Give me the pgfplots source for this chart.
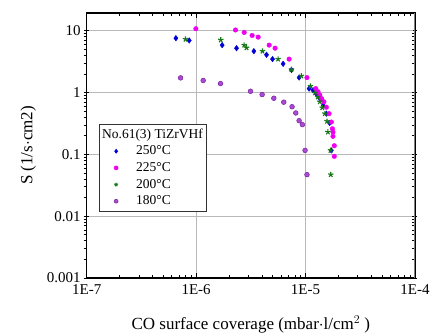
\documentclass[border=0pt]{standalone}
\usepackage{fontspec}
\setmainfont{Liberation Serif}
\usepackage{pgfplots}
\pgfplotsset{compat=1.18}
\definecolor{cA}{RGB}{0,0,215}
\definecolor{cB}{RGB}{240,0,240}
\definecolor{cC}{RGB}{20,120,20}
\definecolor{cD}{RGB}{170,75,210}
\definecolor{cDd}{RGB}{120,35,160}
\newcommand{\lf}{\fontsize{13.5bp}{15bp}\selectfont}
\pgfplotsset{mylegimg/.style={legend image code/.code={\draw[overlay, mark size=2pt] plot coordinates {(16bp,0bp)};}}}
\begin{document}
\begin{tikzpicture}
\useasboundingbox (-86.7bp,-56bp) rectangle (345.3bp,278bp);
\begin{axis}[
  scale only axis,
  width=328.3bp, height=265bp,
  xmode=log, ymode=log,
  xmin=1e-7, xmax=1e-4,
  ymin=0.001, ymax=19.4,
  xtick={1e-7,1e-6,1e-5,1e-4},
  xticklabels={1E-7,1E-6,1E-5,1E-4},
  ytick={0.001,0.01,0.1,1,10},
  yticklabels={0.001,0.01,0.1,1,10},
  log ticks with fixed point,
  xtick align=inside, ytick align=center,
  major tick length=5bp, minor tick length=3bp,
  tick style={black, line width=0.8pt},
  minor y tick style={xshift=-1.5bp},
  grid=major,
  major grid style={gray!55, line width=0.6pt},
  axis line style={black, line width=1.1pt},
  ticklabel style={font=\fontsize{15bp}{17bp}\selectfont},
  xticklabel style={yshift=-3bp},
  xlabel={CO surface coverage (mbar$\cdot$l/cm$^{2}$ )},
  ylabel={S (1/s$\cdot$cm2)},
  label style={font=\fontsize{17bp}{19bp}\selectfont},
  xlabel style={yshift=-14bp},
  ylabel style={yshift=4bp},
  legend style={at={(rel axis cs:0.037,0.581)}, anchor=north west,
    draw=black!80, fill=white, line width=0.6pt,
    font=\lf, nodes={font=\lf}, row sep=2.2bp,
    inner xsep=1bp, inner ysep=2.5bp},
  legend cell align=left,
]
\addlegendimage{empty legend}
\addlegendentry{\lf No.61(3) TiZrVHf}
\addplot[only marks, mark=diamond*, mark size=2.8pt, color=cA, mylegimg] coordinates {
(6.53e-7,7.6) (8.65e-7,6.97) (1.73e-6,5.86) (2.34e-6,5.23) (3.37e-6,4.68)
(4.40e-6,4.09) (4.99e-6,3.48) (6.24e-6,2.92) (7.43e-6,2.33) (8.73e-6,1.75)
(1.077e-5,1.16) (1.17e-5,1.09) (1.26e-5,0.94) (1.35e-5,0.80) (1.45e-5,0.62)
(1.55e-5,0.456) (1.66e-5,0.322) (1.72e-5,0.116)
};
\addlegendentry{\lf\hspace{34bp}250°C}
\addplot[only marks, mark=*, mark size=2.3pt, color=cB, mylegimg] coordinates {
(9.95e-7,10.8) (2.29e-6,10.3) (2.75e-6,9.4) (3.25e-6,8.4) (3.69e-6,7.9)
(4.65e-6,5.86) (5.27e-6,5.23) (7.08e-6,3.48) (1.03e-5,1.75) (1.24e-5,1.16)
(1.30e-5,1.03) (1.35e-5,0.91) (1.40e-5,0.80) (1.47e-5,0.71) (1.55e-5,0.58)
(1.64e-5,0.456) (1.72e-5,0.334) (1.76e-5,0.26) (1.78e-5,0.23) (1.78e-5,0.196)
(1.83e-5,0.138) (1.83e-5,0.093)
};
\addlegendentry{\lf\hspace{34bp}225°C}
\addplot[only marks, mark=star, mark size=2.8pt, color=cC, mark options={line width=1.1pt}, mylegimg] coordinates {
(8.0e-7,7.3) (1.68e-6,7.1) (2.75e-6,5.86) (2.89e-6,5.3) (4.04e-6,4.68)
(5.61e-6,3.48) (7.43e-6,2.36) (9.16e-6,1.86) (1.11e-5,1.27) (1.22e-5,0.99)
(1.29e-5,0.85) (1.35e-5,0.71) (1.42e-5,0.57) (1.50e-5,0.456) (1.57e-5,0.343)
(1.60e-5,0.23) (1.69e-5,0.116) (1.70e-5,0.047)
};
\addlegendentry{\lf\hspace{34bp}200°C}
\addplot[only marks, mark=*, mark size=2.4pt, draw=cDd, fill=cD, mark options={line width=0.5pt}, mylegimg] coordinates {
(7.21e-7,1.73) (1.16e-6,1.57) (1.67e-6,1.40) (3.14e-6,1.05) (4.01e-6,0.93)
(5.13e-6,0.81) (6.32e-6,0.70) (7.53e-6,0.59) (8.14e-6,0.468) (8.73e-6,0.351)
(9.35e-6,0.303) (9.90e-6,0.116) (1.03e-5,0.047)
};
\addlegendentry{\lf\hspace{34bp}180°C}
\draw[gray, line width=1.4pt] (rel axis cs:1,0) -- (rel axis cs:1,1);
\end{axis}
\end{tikzpicture}
\end{document}
